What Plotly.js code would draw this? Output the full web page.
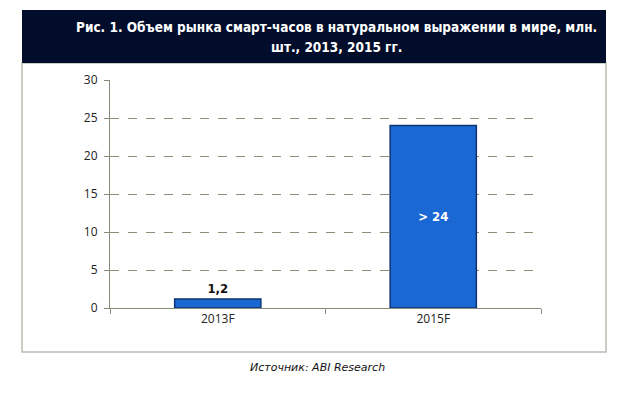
<!DOCTYPE html>
<html><head><meta charset="utf-8">
<script src="https://cdn.plot.ly/plotly-3.0.1.min.js"></script>
<style>html,body{margin:0;padding:0;background:#fff}#c{width:640px;height:394px}</style>
</head><body><div id="c"></div>
<script>
const categories = ["2013F", "2015F"];
const values = [1.2, 24];
const valueLabels = ["1,2", "> 24"];
const yTicks = [0, 5, 10, 15, 20, 25, 30];
const titleLine1 = "Рис. 1. Объем рынка смарт-часов в натуральном выражении в мире, млн.";
const titleLine2 = "шт., 2013, 2015 гг.";
const sourceText = "Источник: ABI Research";

const W = 640, H = 394, L = 110, R = 99, T = 80, B = 86;
const pw = W - L - R, ph = H - T - B;
const px = x => (x - L) / pw;
const py = y => (H - B - y) / ph;

const trace = {
  type: "bar",
  x: categories,
  y: values,
  width: 0.4,
  text: valueLabels,
  textposition: ["outside", "inside"],
  insidetextanchor: "middle",
  textfont: {family: "DejaVu Sans Condensed, Open Sans, sans-serif", size: 13, color: ["#111", "#fff"], weight: "bold"},
  cliponaxis: false,
  marker: {color: "#1a68d4", line: {color: "#0c3470", width: 1.5}},
  hoverinfo: "skip"
};

const layout = {
  width: W, height: H,
  margin: {l: L, r: R, t: T, b: B},
  paper_bgcolor: "#fff", plot_bgcolor: "#fff",
  showlegend: false,
  xaxis: {
    type: "category",
    showline: true, linecolor: "#8a8a78", linewidth: 1,
    ticks: "outside", tickson: "boundaries", ticklen: 5, tickcolor: "#8a8a78",
    tickfont: {family: "Open Sans, sans-serif", size: 12, color: "#222"},
    showgrid: false, zeroline: false
  },
  yaxis: {
    range: [0, 30], tickvals: yTicks, ticktext: yTicks.map(String),
    showline: true, linecolor: "#8a8a78", linewidth: 1,
    ticks: "outside", ticklen: 5, tickcolor: "#8a8a78",
    tickfont: {family: "Open Sans, sans-serif", size: 12, color: "#222"},
    showgrid: true, gridcolor: "#8f8f78", griddash: "dash", gridwidth: 1,
    zeroline: false, ticklabelstandoff: 4
  },
  shapes: [
    {type: "rect", xref: "paper", yref: "paper", x0: px(22), x1: px(606), y0: py(63), y1: py(352),
     line: {color: "#b9c0b2", width: 1.5}, fillcolor: "rgba(0,0,0,0)", layer: "below"},
    {type: "rect", xref: "paper", yref: "paper", x0: px(22), x1: px(606), y0: py(10), y1: py(63),
     line: {width: 0}, fillcolor: "#020d2b", layer: "below"}
  ],
  annotations: [
    {xref: "paper", yref: "paper", x: px(336), y: py(27), xanchor: "center", yanchor: "middle",
     text: "<b>" + titleLine1 + "</b>", showarrow: false,
     font: {family: "DejaVu Sans Condensed, sans-serif", size: 13.5, color: "#fff"}},
    {xref: "paper", yref: "paper", x: px(336), y: py(47), xanchor: "center", yanchor: "middle",
     text: "<b>" + titleLine2 + "</b>", showarrow: false,
     font: {family: "DejaVu Sans Condensed, sans-serif", size: 13.5, color: "#fff"}},
    {xref: "paper", yref: "paper", x: px(317), y: py(367), xanchor: "center", yanchor: "middle",
     text: "<i>" + sourceText + "</i>", showarrow: false,
     font: {family: "DejaVu Sans, sans-serif", size: 11, color: "#111"}}
  ]
};

Plotly.newPlot("c", [trace], layout, {staticPlot: true, displayModeBar: false});
</script></body></html>
